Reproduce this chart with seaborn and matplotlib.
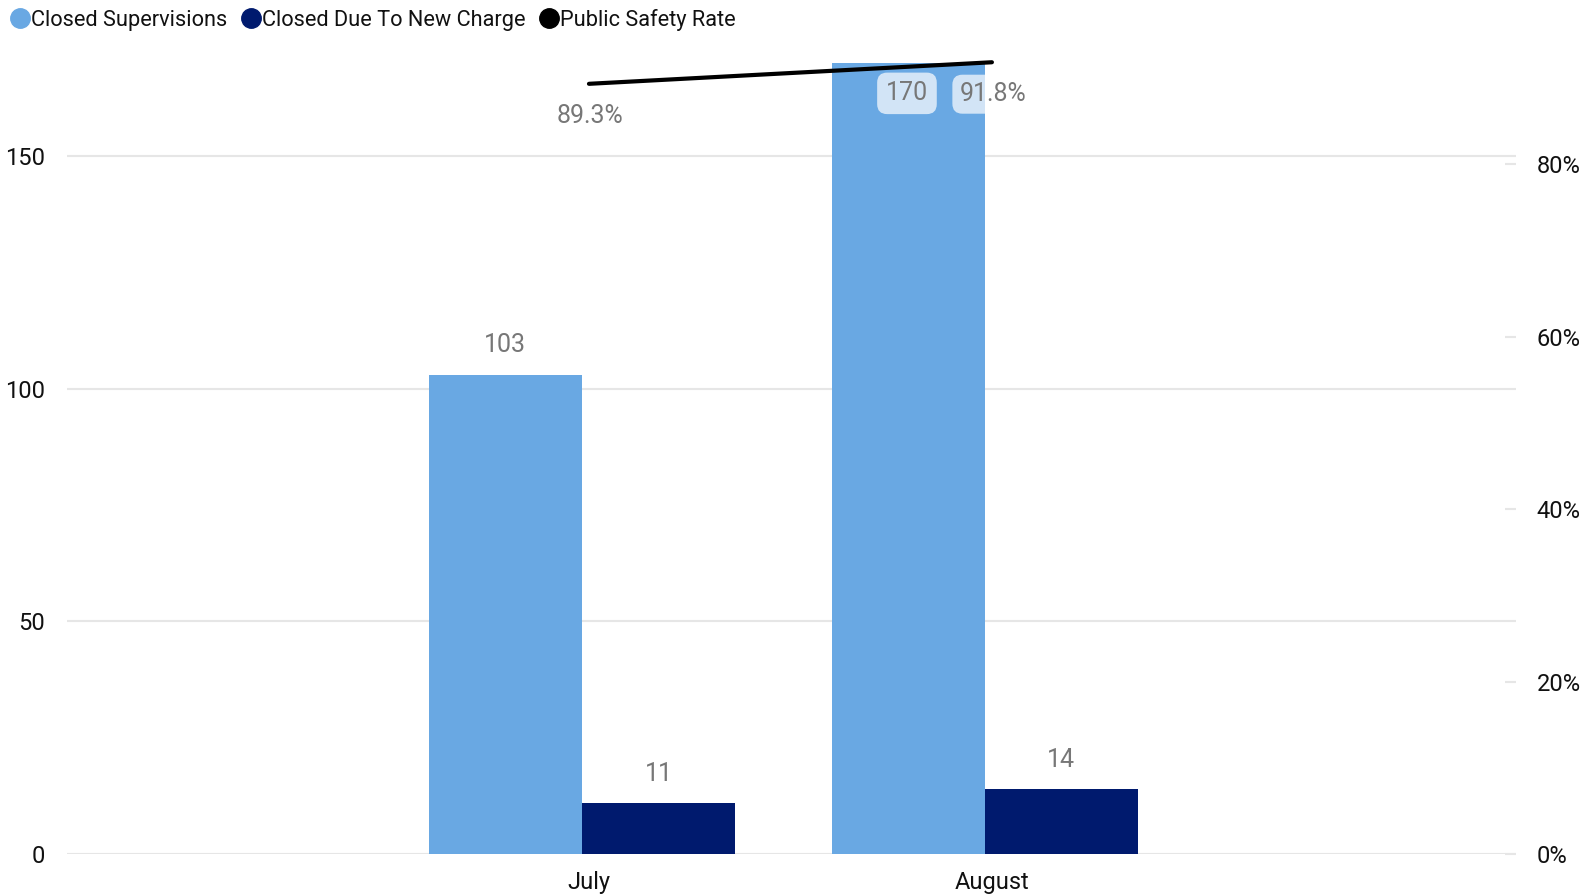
import numpy as np
import pandas as pd
import matplotlib
matplotlib.use("Agg")
import matplotlib.pyplot as plt
import matplotlib.transforms as mtransforms
from matplotlib.lines import Line2D
import seaborn as sns

months = ["July", "August"]
closed_supervisions = [103, 170]
closed_new_charge = [11, 14]
public_safety_rate = [89.3, 91.8]

series_names = ["Closed Supervisions", "Closed Due To New Charge"]
bar_colors = ["#69A8E3", "#001A6E"]
line_color = "#000000"
label_color = "#777777"

sns.set_theme(style="white")
plt.rcParams["font.family"] = ["Roboto", "DejaVu Sans"]

df = pd.DataFrame({
    "Month": months * 2,
    "Series": [series_names[0]] * 2 + [series_names[1]] * 2,
    "Value": closed_supervisions + closed_new_charge,
})

fig = plt.figure(figsize=(15.84, 8.96), dpi=100)
ax = fig.add_axes([67 / 1584, 1 - 854 / 896, (1516 - 67) / 1584, (854 - 40) / 896])

sns.barplot(data=df, x="Month", y="Value", hue="Series", order=months,
            hue_order=series_names, palette=bar_colors, width=0.76,
            saturation=1, linewidth=0, ax=ax, legend=False)

ax.set_xlim(-1.278, 2.318)
ax.set_ylim(0, 174.9)
ax.set_yticks([0, 50, 100, 150])
ax.yaxis.grid(True, color="#E6E6E6", linewidth=1.5)
ax.set_axisbelow(True)
for s in ax.spines.values():
    s.set_visible(False)
ax.set_xlabel("")
ax.set_ylabel("")
ax.tick_params(axis="y", length=0, pad=16, labelsize=17, labelcolor="#111111")
ax.tick_params(axis="x", length=0, pad=12, labelsize=17, labelcolor="#111111")
ax.axhline(0, color="#E6E6E6", linewidth=2, zorder=0)

# category labels and the line sit a few px right of the bar pairs
shift = mtransforms.ScaledTranslation(7 / 100, 0, fig.dpi_scale_trans)
for lbl in ax.get_xticklabels():
    lbl.set_transform(lbl.get_transform() + shift)

# bar labels
for i, cont in enumerate(ax.containers):
    for j, rect in enumerate(cont):
        val = rect.get_height()
        cx = rect.get_x() + rect.get_width() / 2
        if i == 0 and j == 1:
            ax.annotate(f"{val:.0f}", (cx, val), xytext=(-1, -22),
                        textcoords="offset points", ha="center", va="center",
                        fontsize=18, color=label_color,
                        bbox=dict(boxstyle="round,pad=0.35,rounding_size=0.4",
                                  fc="white", ec="none", alpha=0.7))
        else:
            ax.annotate(f"{val:.0f}", (cx, val), xytext=(0, 21),
                        textcoords="offset points", ha="center", va="center",
                        fontsize=18, color=label_color)

ax2 = ax.twinx()
sns.lineplot(x=np.arange(len(months)), y=public_safety_rate, color=line_color,
             linewidth=3, ax=ax2, transform=ax2.transData + shift)
ax2.set_ylim(0, 94.38)
ax2.set_yticks([0, 20, 40, 60, 80])
ax2.set_yticklabels([f"{t}%" for t in [0, 20, 40, 60, 80]])
ax2.tick_params(axis="y", direction="in", length=8, width=1.5, color="#E6E6E6",
                pad=15, labelsize=17, labelcolor="#111111")
for s in ax2.spines.values():
    s.set_visible(False)

for i, r in enumerate(public_safety_rate):
    kw = {}
    if i == 1:
        kw["bbox"] = dict(boxstyle="round,pad=0.3,rounding_size=0.4",
                          fc="white", ec="none", alpha=0.7)
    ax2.annotate(f"{r}%", (i, r), xytext=(6, -23), textcoords="offset points",
                 ha="center", va="center", fontsize=18, color=label_color, **kw)

# legend
handles = [Line2D([], [], marker="o", linestyle="", markersize=14,
                  markerfacecolor=c, markeredgecolor=c)
           for c in bar_colors + [line_color]]
fig.legend(handles, series_names + ["Public Safety Rate"], loc="upper left",
           bbox_to_anchor=(-0.004, 1.005), ncol=3, frameon=False, fontsize=15.7,
           handletextpad=-0.1, columnspacing=0.5, handlelength=1.2,
           borderaxespad=0.2, labelcolor="#111111")

fig.savefig("out.png", dpi=100)
